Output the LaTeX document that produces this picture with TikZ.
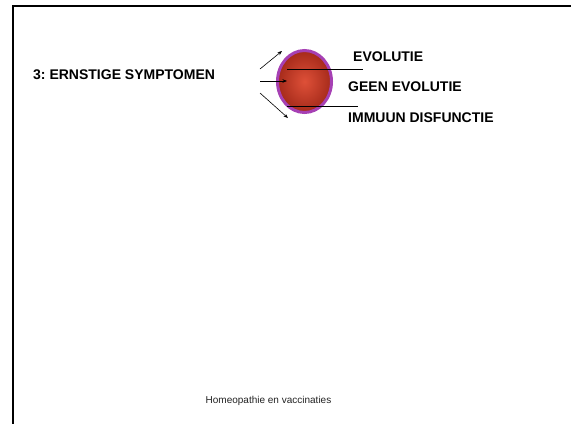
\documentclass[tikz,border=0pt]{standalone}
\usepackage{fontspec}
\setmainfont{Liberation Sans}
\newfontfamily\heavy{Liberation Sans Bold}
\frenchspacing
\usetikzlibrary{shapes.geometric,arrows.meta}
\definecolor{cellborder}{HTML}{A640B4}
\definecolor{cellin}{HTML}{DE5038}
\definecolor{cellout}{HTML}{A52A1A}
\definecolor{foot}{HTML}{222222}
\tikzset{
  label/.style={anchor=west,inner sep=0pt,font=\fontsize{14}{16}\selectfont\heavy},
  arr/.style={-{Stealth[length=4.5pt,width=3.5pt]},line width=0.6pt},
  rule/.style={line width=0.8pt},
  frame/.style={line width=2pt,black}
}
\begin{document}
\begin{tikzpicture}[x=1pt,y=-1pt]
\useasboundingbox (0,0) rectangle (571,424);
\coordinate (fr) at (571,6);
\coordinate (fc) at (13,6);
\coordinate (fb) at (13,424);
\draw[frame] (fr) -- (fc) -- (fb);
\node[label] (title) at (33,75) {3:\ ERNSTIGE SYMPTOMEN};
\node[ellipse,draw=cellborder,line width=3pt,minimum width=54pt,minimum height=62pt,inner sep=0pt,inner color=cellin,outer color=cellout] (cell) at (304.5,81.5) {};
\coordinate (a1s) at (260,69);
\coordinate (a1e) at (282,51);
\coordinate (a2s) at (260,81);
\coordinate (a2e) at (287,81);
\coordinate (a3s) at (260,93);
\coordinate (a3e) at (288,118);
\draw[arr] (a1s) -- (a1e);
\draw[arr] (a2s) -- (a2e);
\draw[arr] (a3s) -- (a3e);
\coordinate (l1s) at (287,69);
\coordinate (l1e) at (363,69);
\coordinate (l2s) at (287,106);
\coordinate (l2e) at (358,106);
\draw[rule] (l1s) -- (l1e);
\draw[rule] (l2s) -- (l2e);
\node[label] (evo) at (353,57) {EVOLUTIE};
\node[label] (geen) at (348,87) {GEEN EVOLUTIE};
\node[label] (imm) at (348,118) {IMMUUN DISFUNCTIE};
\node[anchor=base,inner sep=0pt,font=\fontsize{10}{12}\selectfont,text=foot] (footer) at (268.5,403.5) {Homeopathie en vaccinaties};
\end{tikzpicture}
\end{document}
